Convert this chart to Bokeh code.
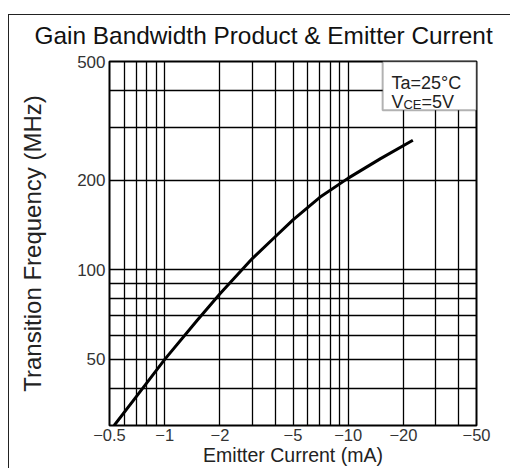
from bokeh.plotting import figure
from bokeh.models import FixedTicker, Label, BoxAnnotation, InlineStyleSheet
from bokeh.embed import file_html
from bokeh.resources import INLINE

# Emitter current magnitude (mA) and transition frequency (MHz)
current = [0.53, 0.7, 1.0, 1.5, 2.0, 3.0, 4.0, 5.0, 7.0, 10, 15, 22.5]
ft = [30, 37.5, 50, 67.5, 83, 109, 129, 147, 175, 203, 236, 272]

x_ticks = [0.5, 1, 2, 5, 10, 20, 50]
x_tick_labels = ["−0.5", "−1", "−2", "−5", "−10", "−20", "−50"]
y_ticks = [50, 100, 200, 500]
y_tick_labels = ["50", "100", "200", "500"]
x_grid = [0.6, 0.7, 0.8, 0.9, 1, 2, 3, 4, 5, 6, 7, 8, 9, 10, 20, 30, 40]
y_grid = [40, 50, 60, 70, 80, 90, 100, 200, 300, 400]

FONT = "Liberation Sans"

p = figure(width=510, height=468, x_axis_type="log", y_axis_type="log",
           x_range=(0.5, 50), y_range=(30, 500),
           output_backend="svg", toolbar_location=None,
           min_border_left=109, min_border_right=34,
           min_border_top=61, min_border_bottom=41,
           title="Gain Bandwidth Product & Emitter Current")

# thin frame of the whole picture (top and left edges)
p.stylesheets = [InlineStyleSheet(css="""
:host { position: relative; overflow: hidden; }
:host::before { content: ""; position: absolute; left: 8px; top: 14px; right: 0; bottom: auto;
  width: auto; height: 0; border: none; border-top: 1.5px solid #222;
  background: none; pointer-events: none; z-index: 10; }
:host::after { content: ""; position: absolute; left: 8px; top: 14px; bottom: 0; right: auto;
  width: 0; height: auto; border: none; border-left: 1.5px solid #222;
  background: none; pointer-events: none; z-index: 10; }
""")]

p.title.text_font = FONT
p.title.text_font_size = "24.4px"
p.title.text_font_style = "normal"
p.title.text_color = "#111"
p.title.align = "left"
p.title.offset = -75
p.title.standoff = 25

p.outline_line_color = "black"
p.outline_line_width = 2
p.outline_line_alpha = 1

p.xaxis.ticker = FixedTicker(ticks=x_ticks)
p.xaxis.major_label_overrides = dict(zip(x_ticks, x_tick_labels))
p.yaxis.ticker = FixedTicker(ticks=y_ticks)
p.yaxis.major_label_overrides = dict(zip(y_ticks, y_tick_labels))

for ax in (p.xaxis[0], p.yaxis[0]):
    ax.axis_line_color = None
    ax.major_tick_line_color = None
    ax.minor_tick_line_color = None
    ax.major_tick_out = 0
    ax.major_tick_in = 0
    ax.minor_tick_out = 0
    ax.minor_tick_in = 0
    ax.major_label_text_font = FONT
    ax.major_label_text_font_size = "17px"
    ax.major_label_text_color = "#333"
    ax.axis_label_text_font = FONT
    ax.axis_label_text_font_style = "normal"
    ax.axis_label_text_color = "#222"

p.xaxis.major_label_text_font_size = "16.5px"
p.xaxis.major_label_text_line_height = 0.9
p.xaxis.axis_label_text_line_height = 0.9
p.xaxis.major_label_standoff = 3
p.xaxis.axis_label_standoff = 0
p.xaxis.axis_label = "Emitter Current (mA)"
p.xaxis.axis_label_text_font_size = "19.5px"
p.yaxis.axis_label = "Transition Frequency (MHz)"
p.yaxis.axis_label_text_font_size = "24px"
p.yaxis.major_label_standoff = 4
p.yaxis.axis_label_standoff = 28

p.xgrid.ticker = FixedTicker(ticks=x_grid)
p.ygrid.ticker = FixedTicker(ticks=y_grid)
for g in (p.xgrid[0], p.ygrid[0]):
    g.grid_line_color = "black"
    g.grid_line_width = 1.3
    g.grid_line_alpha = 1

p.line(current, ft, line_color="black", line_width=3)

p.add_layout(BoxAnnotation(left=15.4, right=50, bottom=343, top=500,
                           fill_color="white", fill_alpha=1,
                           line_color="black", line_width=2))
p.add_layout(Label(x=17.2, y=422, text="Ta=25°C", text_font=FONT,
                   text_font_size="18px", text_color="#222", text_baseline="alphabetic"))
p.add_layout(Label(x=17.2, y=365, text="V", text_font=FONT,
                   text_font_size="18px", text_color="#222", text_baseline="alphabetic"))
p.add_layout(Label(x=17.2, y=365, x_offset=12, y_offset=-2, text="CE", text_font=FONT,
                   text_font_size="13px", text_color="#222", text_baseline="alphabetic"))
p.add_layout(Label(x=17.2, y=365, x_offset=30, text="=5V", text_font=FONT,
                   text_font_size="18px", text_color="#222", text_baseline="alphabetic"))

open("out.html", "w").write(file_html(p, INLINE))
